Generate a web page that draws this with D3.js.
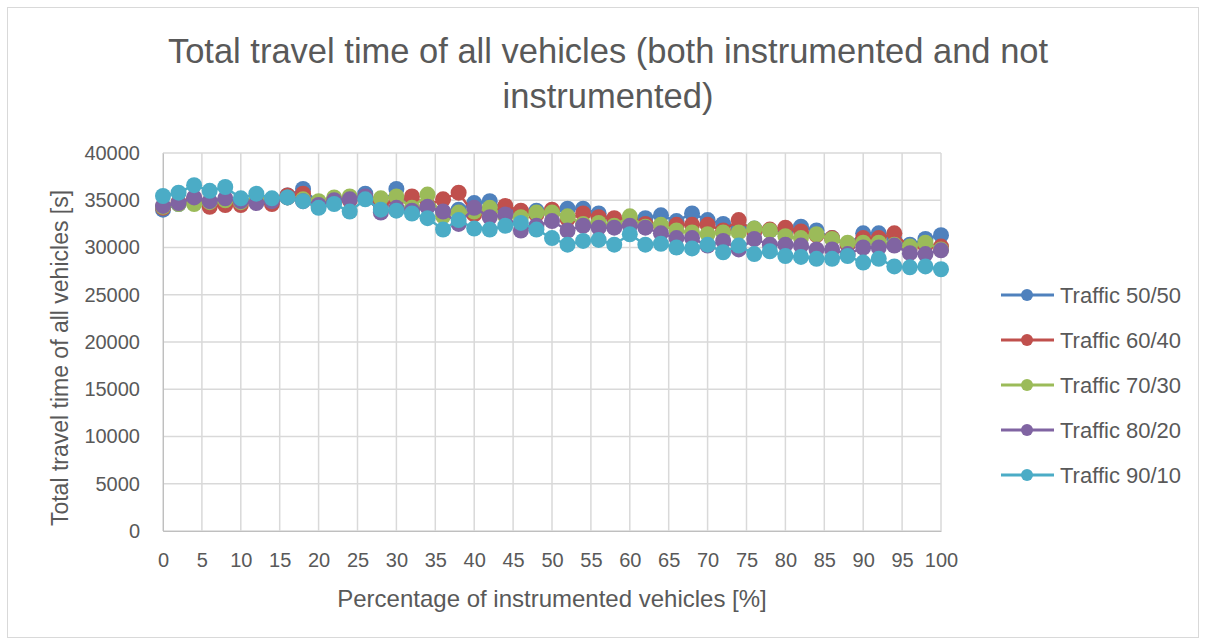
<!DOCTYPE html>
<html>
<head>
<meta charset="utf-8">
<script src="https://cdn.jsdelivr.net/npm/d3@7"></script>
<style>
  body { margin: 0; background: #fff; }
  text { font-family: "Liberation Sans", "DejaVu Sans", sans-serif; fill: #595959; }
</style>
</head>
<body>
<div id="chart"></div>
<script>
// x values: percentage of instrumented vehicles
const pct = d3.range(0, 101, 2);

// series values
const traffic5050 = [34000,34600,35000,34700,34800,34900,35100,35000,35500,36200,34700,34900,35200,35700,34600,36200,34000,34300,33800,34000,34700,34900,34000,33800,33900,33700,34100,34100,33600,32900,33100,33100,33400,32800,33600,32900,32500,32000,32000,31800,31800,32200,31800,31000,30300,31500,31500,30800,30300,30900,31300];
const traffic6040 = [34200,34800,35200,34300,34500,34500,35000,34600,35500,35700,34500,35000,35000,35300,34500,35000,35400,34500,35100,35800,33500,33800,34400,33900,33500,34000,33000,33600,33200,33100,33000,32500,32300,32400,32400,32400,31800,32900,31700,31900,32100,31700,31300,31000,30300,31000,31000,31500,30000,30200,30100];
const traffic7030 = [34300,34600,34600,34800,35000,34800,35000,35000,35300,35100,34900,35300,35400,35200,35200,35400,34200,35600,33300,33700,33800,34200,33300,33200,33700,33700,33300,32500,32600,32300,33300,32200,32400,31800,31600,31400,31600,31600,32000,31800,31200,31000,31400,30900,30500,30500,30500,30300,30100,30500,29800];
const traffic8020 = [34400,34700,35300,34900,35200,34900,34700,34900,35300,34900,34500,35000,35100,35400,33700,34200,33900,34300,33800,32500,34200,33200,33500,31800,32300,32800,31800,32300,32100,32100,32300,32100,31500,31000,31000,30200,30700,29800,30900,30300,30300,30200,29800,29800,29300,30000,30000,30200,29400,29300,29700];
const traffic9010 = [35450,35800,36600,36000,36400,35200,35700,35200,35300,34900,34200,34600,33800,35100,34000,33900,33600,33100,31900,32900,32000,31900,32300,32600,31900,31000,30300,30700,30800,30300,31400,30300,30400,30000,29900,30300,29500,30200,29300,29600,29100,29000,28800,28800,29100,28400,28800,28000,27900,28000,27700];

const seriesNames = ["Traffic 50/50", "Traffic 60/40", "Traffic 70/30", "Traffic 80/20", "Traffic 90/10"];
const seriesValues = [traffic5050, traffic6040, traffic7030, traffic8020, traffic9010];
const seriesColors = ["#4F81BD", "#C0504D", "#9BBB59", "#8064A2", "#4BACC6"];

const yTicks = d3.range(0, 40001, 5000);
const xTicks = d3.range(0, 101, 5);

const width = 1205, height = 644;
const margin = { left: 163, right: 264, top: 153, bottom: 113 };

const svg = d3.select("#chart").append("svg")
  .attr("width", width)
  .attr("height", height);

// outer chart border
svg.append("rect")
  .attr("x", 7.5).attr("y", 7.5)
  .attr("width", width - 14).attr("height", height - 14)
  .attr("fill", "#fff")
  .attr("stroke", "#D9D9D9");

const x = d3.scaleLinear().domain([0, 100]).range([margin.left, width - margin.right]);
const y = d3.scaleLinear().domain([0, 40000]).range([height - margin.bottom, margin.top]);

// gridlines
svg.append("g")
  .selectAll("line.h")
  .data(yTicks)
  .enter().append("line")
  .attr("x1", x(0)).attr("x2", x(100))
  .attr("y1", d => y(d)).attr("y2", d => y(d))
  .attr("stroke", "#D9D9D9").attr("stroke-width", 1.5);

svg.append("g")
  .selectAll("line.v")
  .data(xTicks)
  .enter().append("line")
  .attr("x1", d => x(d)).attr("x2", d => x(d))
  .attr("y1", y(0)).attr("y2", y(40000))
  .attr("stroke", "#D9D9D9").attr("stroke-width", 1.5);

// axes
const yAxis = svg.append("g")
  .attr("transform", `translate(${x(0)},0)`)
  .call(d3.axisLeft(y).tickValues(yTicks).tickFormat(d3.format("d")).tickSize(0).tickPadding(23));
yAxis.select(".domain").attr("stroke", "#BFBFBF");
yAxis.selectAll("text").style("font-size", "20px").attr("fill", "#595959");

const xAxis = svg.append("g")
  .attr("transform", `translate(0,${y(0)})`)
  .call(d3.axisBottom(x).tickValues(xTicks).tickSize(0).tickPadding(22));
xAxis.select(".domain").attr("stroke", "#BFBFBF");
xAxis.selectAll("text").style("font-size", "20px").attr("fill", "#595959");

// series
const line = d3.line().x((d, i) => x(pct[i])).y(d => y(d));

seriesValues.forEach((vals, s) => {
  const g = svg.append("g");
  g.append("path")
    .datum(vals)
    .attr("d", line)
    .attr("fill", "none")
    .attr("stroke", seriesColors[s])
    .attr("stroke-width", 2.5);
  g.selectAll("circle")
    .data(vals)
    .enter().append("circle")
    .attr("cx", (d, i) => x(pct[i]))
    .attr("cy", d => y(d))
    .attr("r", 8)
    .attr("fill", seriesColors[s]);
});

// title
const title = svg.append("text")
  .attr("text-anchor", "middle")
  .style("font-size", "34.5px");
title.append("tspan").attr("x", 608).attr("y", 63)
  .text("Total travel time of all vehicles (both instrumented and not");
title.append("tspan").attr("x", 608).attr("y", 108)
  .text("instrumented)");

// axis titles
svg.append("text")
  .attr("x", 552).attr("y", 607)
  .attr("text-anchor", "middle")
  .style("font-size", "24px")
  .text("Percentage of instrumented vehicles [%]");

svg.append("text")
  .attr("transform", "translate(68,358) rotate(-90)")
  .attr("text-anchor", "middle")
  .style("font-size", "23px")
  .text("Total travel time of all vehicles [s]");

// legend
const legend = svg.append("g");
seriesNames.forEach((name, i) => {
  const ly = 295 + i * 45;
  legend.append("line")
    .attr("x1", 1001).attr("x2", 1054)
    .attr("y1", ly).attr("y2", ly)
    .attr("stroke", seriesColors[i]).attr("stroke-width", 3);
  legend.append("circle")
    .attr("cx", 1027).attr("cy", ly).attr("r", 6)
    .attr("fill", seriesColors[i]);
  legend.append("text")
    .attr("x", 1060).attr("y", ly + 8)
    .style("font-size", "22px")
    .text(name);
});
</script>
</body>
</html>
